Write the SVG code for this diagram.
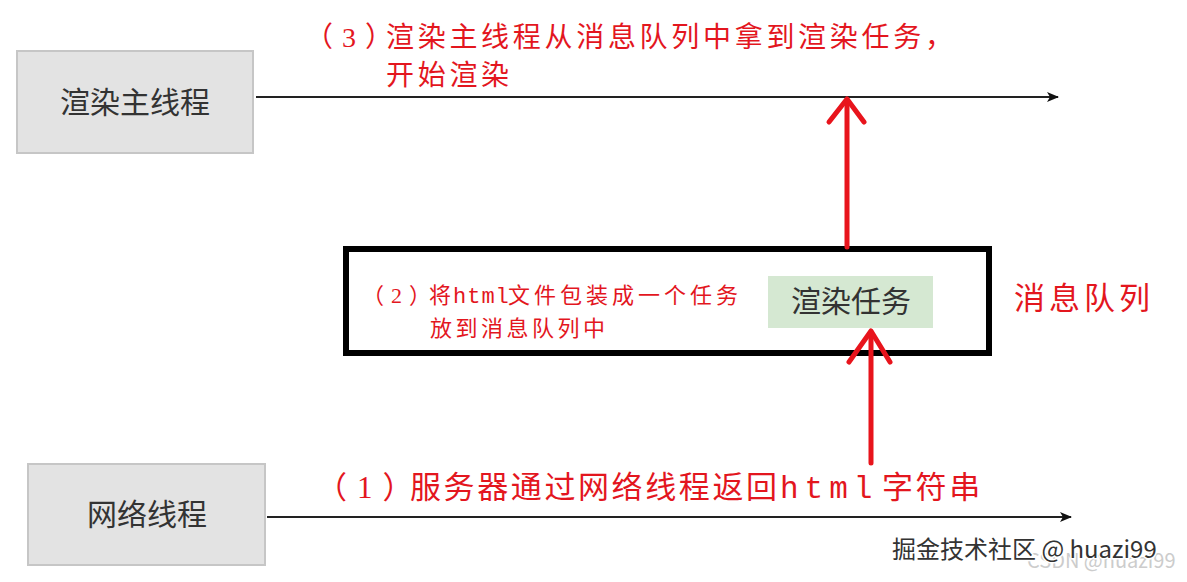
<svg xmlns="http://www.w3.org/2000/svg" width="1187" height="582" viewBox="0 0 1187 582">
  <defs>
    <style>
      .thread { fill: #e3e3e3; stroke: #c6c6c6; stroke-width: 2; }
      .tlabel { font-family: "Noto Sans CJK SC", "Microsoft YaHei", sans-serif; font-size: 30px; fill: #333333; text-anchor: middle; }
      .red { font-family: "Liberation Serif", "Noto Sans CJK SC", serif; fill: #e3161e; }
      .mono { font-family: "Liberation Mono", "Noto Sans CJK SC", monospace; }
      .timeline { stroke: #222222; stroke-width: 2; fill: none; }
      .redarrow { stroke: #e8141c; stroke-width: 5; fill: none; stroke-linecap: round; stroke-linejoin: round; }
    </style>
    <marker id="blackhead" viewBox="0 0 12 10" refX="11" refY="5" markerWidth="12" markerHeight="10" markerUnits="userSpaceOnUse" orient="auto">
      <path d="M0,0 L12,5 L0,10 L3,5 Z" fill="#111111"/>
    </marker>
  </defs>
  <rect width="1187" height="582" fill="#ffffff"/>

  <g id="render-main-thread">
    <rect class="thread" x="17" y="51" width="236" height="102"/>
    <text class="tlabel" x="135" y="113">渲染主线程</text>
  </g>

  <g id="network-thread">
    <rect class="thread" x="28" y="464" width="237" height="101"/>
    <text class="tlabel" x="147" y="525">网络线程</text>
  </g>

  <g id="message-queue">
    <rect x="346" y="249" width="643" height="104" fill="#ffffff" stroke="#000000" stroke-width="6"/>
    <text class="red" font-size="31" letter-spacing="4" x="1014" y="309">消息队列</text>
  </g>

  <g id="render-task">
    <rect x="768" y="276" width="165" height="52" fill="#d5e8d2"/>
    <text class="tlabel" font-size="28" x="851" y="312">渲染任务</text>
  </g>

  <g id="connectors">
    <line class="timeline" x1="256" y1="97" x2="1058" y2="97" marker-end="url(#blackhead)"/>
    <line class="timeline" x1="267" y1="517" x2="1071" y2="517" marker-end="url(#blackhead)"/>
    <line class="redarrow" x1="847" y1="247" x2="847" y2="100"/>
    <polyline class="redarrow" points="829,122 847,99 864,122"/>
    <line class="redarrow" x1="871" y1="463" x2="871" y2="332"/>
    <polyline class="redarrow" points="849,362 871,331 890,362"/>
  </g>

  <g id="labels">
    <text class="red" font-size="28" y="47"><tspan x="305" dx="0 9 9">（3）</tspan><tspan x="386" letter-spacing="3.7">渲染主线程从消息队列中拿到渲染任务，</tspan></text>
    <text class="red" font-size="28" letter-spacing="3.7" x="386" y="85">开始渲染</text>

    <text class="red" font-size="22" y="303"><tspan x="362" dx="0 7 7">（2）</tspan><tspan x="429">将</tspan><tspan class="mono" x="453" letter-spacing="1">html</tspan><tspan x="508" letter-spacing="4">文件包装成一个任务</tspan></text>
    <text class="red" font-size="22" letter-spacing="3.5" x="430" y="336">放到消息队列中</text>

    <text class="red" font-size="31" y="498"><tspan x="316" dx="0 10 10">（1）</tspan><tspan x="410" letter-spacing="2.6">服务器通过网络线程返回</tspan><tspan class="mono" x="780" letter-spacing="6">html</tspan><tspan x="882" letter-spacing="2.6">字符串</tspan></text>
  </g>

  <g id="watermarks">
    <text x="1027" y="568" font-family="Noto Sans CJK SC, sans-serif" font-size="20" fill="#cccccc">CSDN @huazi99</text>
    <text x="892" y="558" font-family="Noto Sans CJK SC, sans-serif" font-size="24" fill="#333333" stroke="#ffffff" stroke-width="3" paint-order="stroke">掘金技术社区 @ huazi99</text>
  </g>
</svg>
